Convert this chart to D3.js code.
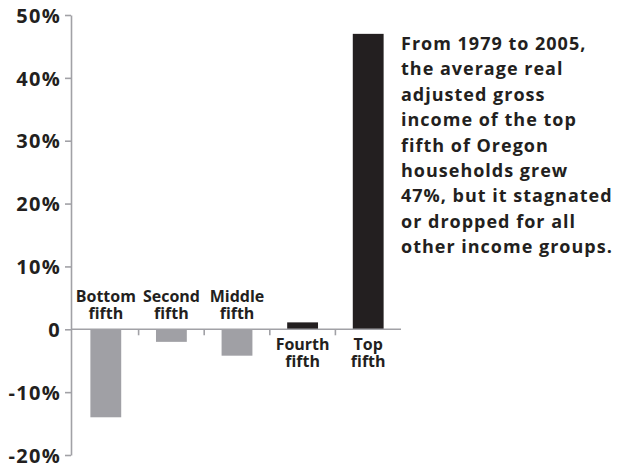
<!DOCTYPE html>
<html>
<head>
<meta charset="utf-8">
<script src="https://cdn.jsdelivr.net/npm/d3@7"></script>
<style>
  html, body { margin: 0; padding: 0; background: #fff; }
  svg { display: block; }
  text { font-family: "Open Sans", "Lato", sans-serif; font-weight: 700; fill: #231f20; }
</style>
</head>
<body>
<svg id="chart" width="622" height="463"></svg>
<script>
const categories = ["Bottom fifth", "Second fifth", "Middle fifth", "Fourth fifth", "Top fifth"];
const values = [-14.0, -2.0, -4.2, 1.1, 47];
const yTicks = [50, 40, 30, 20, 10, 0, -10, -20];
const note = [
  "From 1979 to 2005,",
  "the average real",
  "adjusted gross",
  "income of the top",
  "fifth of Oregon",
  "households grew",
  "47%, but it stagnated",
  "or dropped for all",
  "other income groups."
];

const svg = d3.select("#chart");
const axisColor = "#a1a1a6";
const grayBar = "#a0a0a5";
const darkBar = "#231f20";

const y = d3.scaleLinear().domain([-20, 50]).range([455, 15]);
const x = d3.scaleBand().domain(categories).range([73, 401]).padding(0);
const barW = x.bandwidth() * 0.47;

// bars
svg.append("g").selectAll("rect").data(categories).join("rect")
  .attr("x", (d) => x(d) + x.bandwidth() / 2 - barW / 2)
  .attr("width", barW)
  .attr("y", (d, i) => y(Math.max(0, values[i])))
  .attr("height", (d, i) => Math.abs(y(values[i]) - y(0)))
  .attr("fill", (d, i) => values[i] < 0 ? grayBar : darkBar);

// y axis
const yAxis = d3.axisLeft(y).tickValues(yTicks).tickSize(6).tickSizeOuter(0).tickPadding(4)
  .tickFormat((d) => d === 0 ? "0" : d + "%");
const gy = svg.append("g").attr("transform", "translate(71,0)").call(yAxis);
gy.select(".domain").attr("stroke", axisColor).attr("stroke-width", 1.6);
gy.selectAll(".tick line").attr("stroke", axisColor).attr("stroke-width", 1.6);
gy.selectAll(".tick text")
  .style("font-size", "20px").style("font-family", "'Open Sans', sans-serif")
  .style("font-weight", 700).style("letter-spacing", "1.3px")
  .attr("dy", "0.36em").attr("fill", "#231f20");

// x axis (zero line) with ticks at band boundaries
const gx = svg.append("g");
gx.append("line").attr("x1", 71).attr("x2", x.range()[1]).attr("y1", y(0)).attr("y2", y(0))
  .attr("stroke", axisColor).attr("stroke-width", 1.6);
gx.selectAll("line.bt").data(categories.slice(1)).join("line").attr("class", "bt")
  .attr("x1", (d) => x(d)).attr("x2", (d) => x(d))
  .attr("y1", y(0)).attr("y2", y(0) + 6)
  .attr("stroke", axisColor).attr("stroke-width", 1.6);

// category labels
const lab = svg.append("g").selectAll("text").data(categories).join("text")
  .attr("text-anchor", "middle")
  .style("font-size", "16px")
  .attr("transform", (d, i) => {
    const cx = x(d) + x.bandwidth() / 2;
    const yy = values[i] < 0 ? y(0) - 27 : y(0) + 21;
    return `translate(${cx},${yy})`;
  });
lab.each(function(d) {
  const parts = d.split(" ");
  const t = d3.select(this);
  parts.forEach((p, j) => t.append("tspan").attr("x", 0).attr("y", j * 16.3).text(p));
});

// annotation
const ann = svg.append("text").attr("x", 401).attr("y", 50)
  .style("font-size", "18px").style("letter-spacing", "1px");
note.forEach((line, i) => ann.append("tspan").attr("x", 401).attr("y", 50 + i * 25.4).text(line));
</script>
</body>
</html>
